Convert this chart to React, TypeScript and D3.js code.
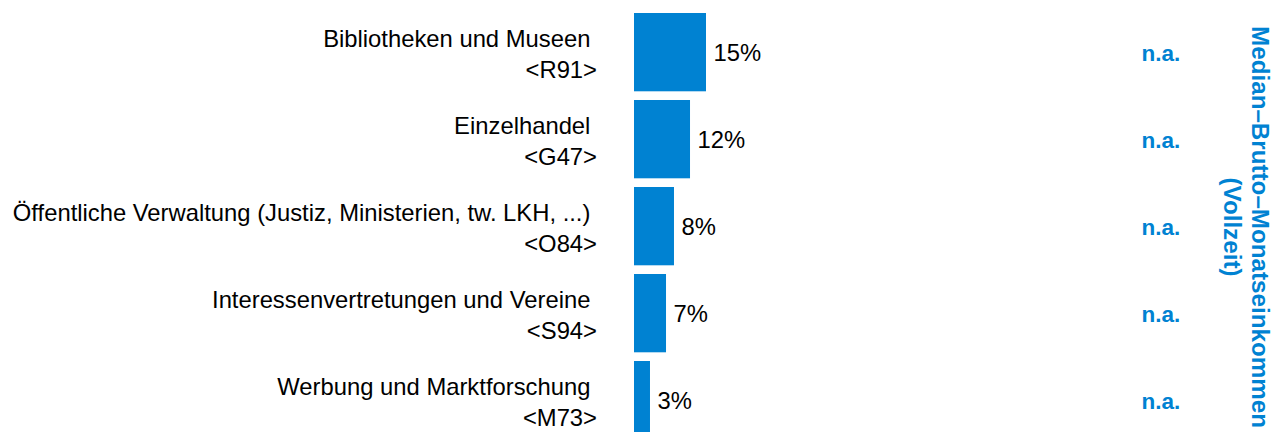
import React from "react";
import * as d3 from "d3";

const categories = [
  "Bibliotheken und Museen",
  "Einzelhandel",
  "Öffentliche Verwaltung (Justiz, Ministerien, tw. LKH, ...)",
  "Interessenvertretungen und Vereine",
  "Werbung und Marktforschung",
];
const codes = ["<R91>", "<G47>", "<O84>", "<S94>", "<M73>"];
const shares = [15.0, 11.67, 8.33, 6.67, 3.33];
const shareLabels = ["15%", "12%", "8%", "7%", "3%"];
const incomes = ["n.a.", "n.a.", "n.a.", "n.a.", "n.a."];
const titleLines = ["Median–Brutto–Monatseinkommen", "(Vollzeit)"];

const W = 1274;
const H = 432;
const BLUE = "#0082D2";
const FONT = "'Liberation Sans', Arial, Helvetica, sans-serif";
const FS = 23.8;

export default function App() {
  const y = d3
    .scaleBand<string>()
    .domain(categories)
    .range([8.65, 8.65 + 5 * 87])
    .paddingInner(0.1)
    .paddingOuter(0.05);
  const x = d3.scaleLinear().domain([0, 100]).range([634, 634 + 480]);

  return (
    <svg
      width={W}
      height={H}
      style={{ position: "fixed", left: 0, top: 0, background: "#fff" }}
      fontFamily={FONT}
    >
      {categories.map((c, i) => {
        const y0 = y(c) as number;
        const bw = y.bandwidth();
        const cy = y0 + bw / 2;
        return (
          <g key={c}>
            <text
              x={597}
              y={cy - 5.6}
              textAnchor="end"
              fontSize={FS}
              fill="#000"
              style={{ whiteSpace: "pre" }}
            >
              {c + " "}
            </text>
            <text x={597} y={cy + 26} textAnchor="end" fontSize={FS} fill="#000">
              {codes[i]}
            </text>
            <rect x={x(0)} y={y0} width={x(shares[i]) - x(0)} height={bw} fill={BLUE} />
            <text x={x(shares[i]) + 7.5} y={cy + 8.4} fontSize={FS} fill="#000">
              {shareLabels[i]}
            </text>
            <text
              x={1161}
              y={cy + 8.7}
              textAnchor="middle"
              fontSize={22.5}
              fontWeight="bold"
              fill={BLUE}
            >
              {incomes[i]}
            </text>
          </g>
        );
      })}
      <g transform={`translate(1252, 227) rotate(90)`}>
        {titleLines.map((t, i) => (
          <text
            key={t}
            x={0}
            y={i * 28}
            textAnchor="middle"
            fontSize={24.2}
            fontWeight="bold"
            fill={BLUE}
          >
            {t}
          </text>
        ))}
      </g>
    </svg>
  );
}
